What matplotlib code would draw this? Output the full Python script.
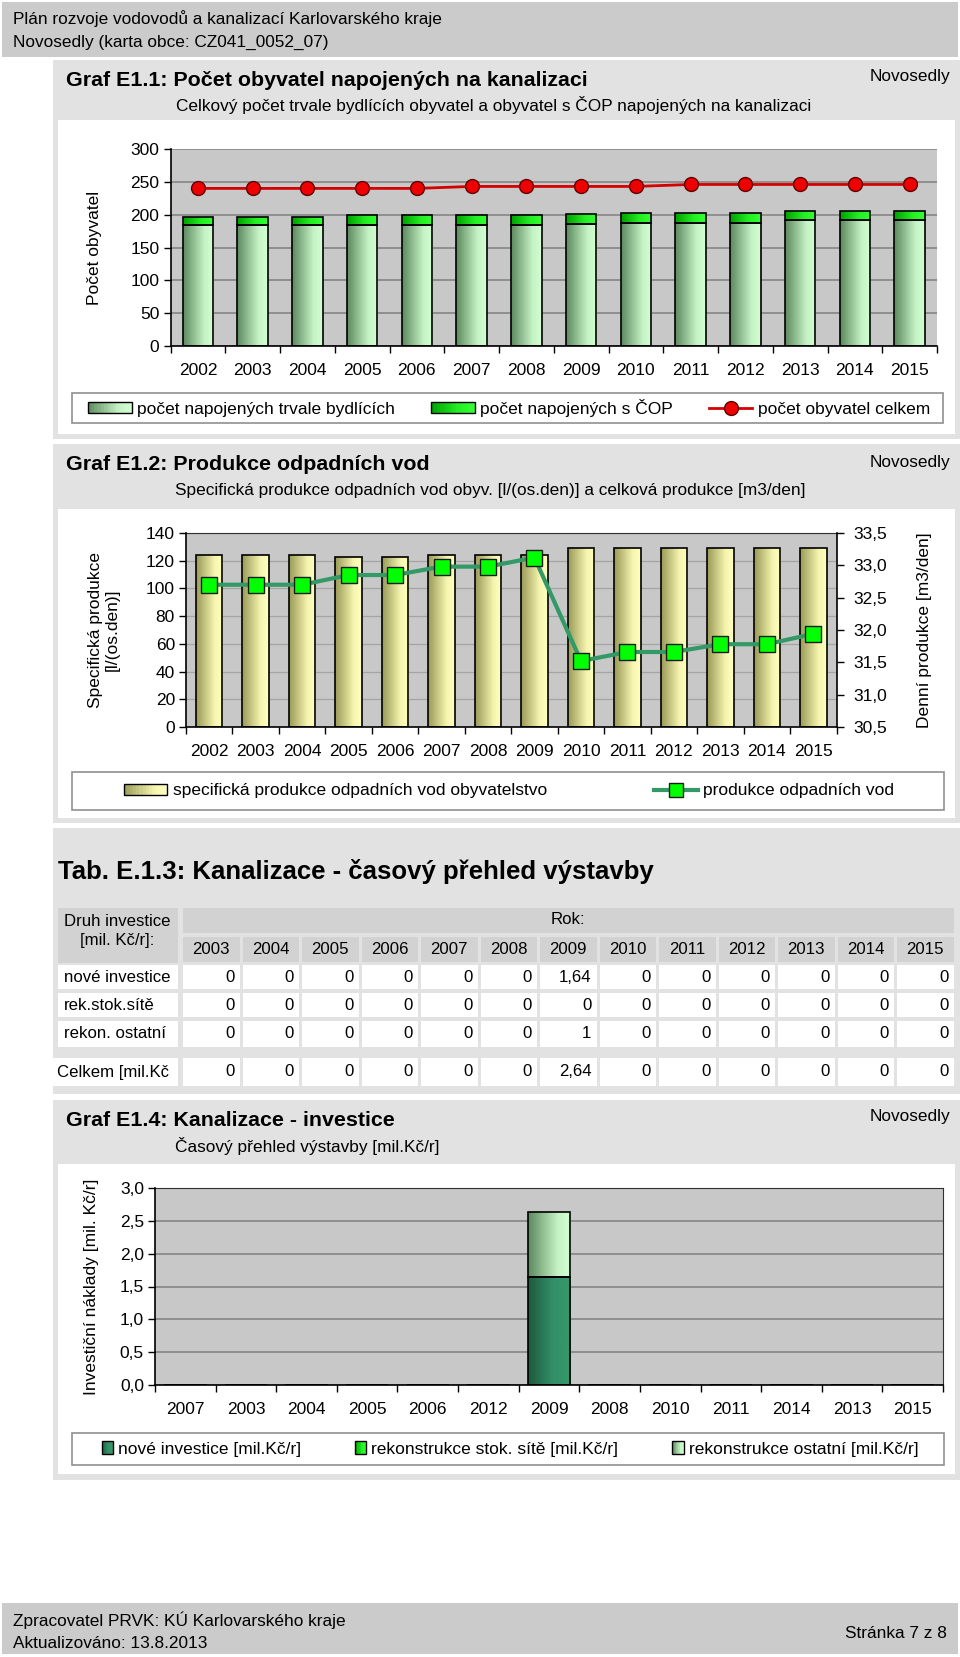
import numpy as np
import matplotlib
matplotlib.use('Agg')
import matplotlib.pyplot as plt
from matplotlib.patches import Rectangle, Patch
from matplotlib.lines import Line2D
from matplotlib.colors import LinearSegmentedColormap
from matplotlib.legend_handler import HandlerBase
from matplotlib.ticker import FuncFormatter, MultipleLocator

plt.rcParams['font.family'] = ['Liberation Sans', 'DejaVu Sans']

# --- data -------------------------------------------------------------
years = ['2002', '2003', '2004', '2005', '2006', '2007', '2008',
         '2009', '2010', '2011', '2012', '2013', '2014', '2015']
napojeni_trvale = [184, 184, 184, 184, 184, 184, 184, 186, 188, 188, 188, 192, 192, 192]
napojeni_cop = [12, 12, 12, 15, 15, 15, 15, 15, 15, 15, 15, 14, 14, 14]
obyvatel_celkem = [240, 240, 240, 240, 240, 243, 243, 243, 243, 246, 246, 246, 246, 246]

spec_produkce = [124, 124, 124, 123, 123, 124, 124, 124, 129, 129, 129, 129, 129, 129]
denni_produkce = [32.70, 32.70, 32.70, 32.85, 32.85, 32.98, 32.98, 33.12,
                  31.52, 31.66, 31.66, 31.78, 31.78, 31.94]

tab_years = ['2003', '2004', '2005', '2006', '2007', '2008', '2009',
             '2010', '2011', '2012', '2013', '2014', '2015']
nove_investice = [0, 0, 0, 0, 0, 0, 1.64, 0, 0, 0, 0, 0, 0]
rek_stok_site = [0, 0, 0, 0, 0, 0, 0, 0, 0, 0, 0, 0, 0]
rekon_ostatni = [0, 0, 0, 0, 0, 0, 1, 0, 0, 0, 0, 0, 0]
celkem = [0, 0, 0, 0, 0, 0, 2.64, 0, 0, 0, 0, 0, 0]
row_labels = ['nové investice', 'rek.stok.sítě', 'rekon. ostatní']

graf4_years = ['2007', '2003', '2004', '2005', '2006', '2012', '2009',
               '2008', '2010', '2011', '2014', '2013', '2015']

W, H = 960, 1657
fig = plt.figure(figsize=(W / 100, H / 100), dpi=100)

bg = fig.add_axes([0, 0, 1, 1], zorder=-1)
bg.set_xlim(0, W)
bg.set_ylim(H, 0)
bg.axis('off')


def box(x0, y0, x1, y1):
    return [x0 / W, 1 - y1 / H, (x1 - x0) / W, (y1 - y0) / H]


def rect(x0, y0, x1, y1, fc, ec='none', lw=0):
    bg.add_patch(Rectangle((x0, y0), x1 - x0, y1 - y0, facecolor=fc, edgecolor=ec, lw=lw))


def fmt(v):
    return f'{v:g}'.replace('.', ',')


PANEL = '#e2e2e2'
BAND = '#cbcbcb'
PLOT = '#c8c8c8'
GRID = '#8a8a8a'
FS = 12.4      # normal page text
TFS = 15.4     # panel titles

pale_green = LinearSegmentedColormap.from_list('pg', [(0, '#5c8a5e'), (0.7, '#c6f3c6'), (1, '#d2ffd2')])
bright_green = LinearSegmentedColormap.from_list('bg', [(0, '#00a000'), (0.6, '#22ee22'), (1, '#33ff33')])
olive = LinearSegmentedColormap.from_list('ol', [(0, '#9a9a58'), (0.7, '#f6f6b0'), (1, '#ffffc0')])
dark_green = LinearSegmentedColormap.from_list('dg', [(0, '#1e5a3c'), (0.6, '#33906a'), (1, '#36996a')])


class GradHandler(HandlerBase):
    def __init__(self, cmap):
        super().__init__()
        self.cmap = cmap

    def create_artists(self, legend, orig_handle, xdescent, ydescent, width, height, fontsize, trans):
        n = 14
        arts = []
        for i in range(n):
            arts.append(Rectangle((-xdescent + width * i / n, -ydescent), width / n, height,
                                  facecolor=self.cmap((i + 0.5) / n), edgecolor='none', transform=trans))
        arts.append(Rectangle((-xdescent, -ydescent), width, height, facecolor='none',
                              edgecolor='black', lw=1, transform=trans))
        return arts


def grad_bars(ax, x, heights, bottoms, width, cmap):
    bars = ax.bar(x, heights, width, bottom=bottoms, facecolor='none', edgecolor='black', lw=1.2, zorder=4)
    grad = np.linspace(0, 1, 64).reshape(1, -1)
    for b in bars:
        if b.get_height() == 0:
            continue
        x0, y0 = b.get_x(), b.get_y()
        im = ax.imshow(grad, cmap=cmap, aspect='auto', zorder=3, interpolation='bilinear',
                       extent=[x0, x0 + b.get_width(), y0, y0 + b.get_height()])
        im.set_clip_path(b)
    return bars


def style_axes(ax, n, grid_color=GRID, grid_lw=1.3):
    ax.set_facecolor(PLOT)
    ax.set_xlim(-0.5, n - 0.5)
    ax.set_xticks(np.arange(n))
    ax.set_xticks(np.arange(n + 1) - 0.5, minor=True)
    ax.tick_params(axis='x', which='major', length=0, pad=12, labelsize=12.5)
    ax.tick_params(axis='x', which='minor', length=5, direction='out', width=1)
    ax.tick_params(axis='y', length=5, direction='out', width=1, labelsize=12.5, pad=3)
    ax.grid(axis='y', color=grid_color, lw=grid_lw, zorder=1)
    ax.set_axisbelow(True)
    for s in ['top', 'right']:
        ax.spines[s].set_visible(False)
    for s in ['left', 'bottom']:
        ax.spines[s].set_linewidth(1.2)
        ax.spines[s].set_zorder(6)


# --- page frame -------------------------------------------------------
rect(2, 2, 958, 57, BAND)
bg.text(13, 19, 'Plán rozvoje vodovodů a kanalizací Karlovarského kraje', fontsize=FS, va='center')
bg.text(13, 42, 'Novosedly (karta obce: CZ041_0052_07)', fontsize=FS, va='center')
rect(2, 1603, 958, 1654, BAND)
bg.text(13, 1620, 'Zpracovatel PRVK: KÚ Karlovarského kraje', fontsize=FS, va='center')
bg.text(13, 1643, 'Aktualizováno: 13.8.2013', fontsize=FS, va='center')
bg.text(947, 1633, 'Stránka 7 z 8', fontsize=FS, va='center', ha='right')

# --- Graf E1.1 --------------------------------------------------------
rect(53, 60, 960, 439, PANEL)
rect(58, 120, 955, 434, 'white')
bg.text(66, 81, 'Graf E1.1: Počet obyvatel napojených na kanalizaci', fontsize=TFS, weight='bold', va='center')
bg.text(950, 77, 'Novosedly', fontsize=FS, va='center', ha='right')
bg.text(494, 105, 'Celkový počet trvale bydlících obyvatel a obyvatel s ČOP napojených na kanalizaci',
        fontsize=FS, va='center', ha='center')

ax1 = fig.add_axes(box(170.5, 149, 937, 346))
x = np.arange(len(years))
grad_bars(ax1, x, napojeni_trvale, 0, 0.555, pale_green)
grad_bars(ax1, x, napojeni_cop, napojeni_trvale, 0.555, bright_green)
ax1.plot(x, obyvatel_celkem, color='#d40000', lw=2, marker='o', ms=10,
         mfc='#ee0000', mec='#600000', mew=1, zorder=7)
style_axes(ax1, len(years))
ax1.set_ylim(0, 300)
ax1.yaxis.set_major_locator(MultipleLocator(50))
ax1.set_xticklabels(years)
ax1.set_ylabel('Počet obyvatel', fontsize=12.5)
ax1.yaxis.set_label_coords((102.5 - 170.5) / 766.5, 0.5)

rect(72, 393, 943, 423, 'white', '#909090', 1.2)
h1 = Patch(label='počet napojených trvale bydlících')
h2 = Patch(label='počet napojených s ČOP')
h3 = Line2D([], [], color='#d40000', lw=2, marker='o', ms=10, mfc='#ee0000', mec='#600000',
            label='počet obyvatel celkem')
fig.legend(handles=[h1, h2, h3], ncol=3, frameon=False, fontsize=12.5,
           loc='center', bbox_to_anchor=(509 / W, 1 - 408 / H),
           handler_map={h1: GradHandler(pale_green), h2: GradHandler(bright_green)},
           handlelength=2.5, handleheight=0.6, handletextpad=0.3, columnspacing=2.1)

# --- Graf E1.2 --------------------------------------------------------
rect(53, 444, 960, 823, PANEL)
rect(58, 509, 955, 818, 'white')
bg.text(66, 465, 'Graf E1.2: Produkce odpadních vod', fontsize=TFS, weight='bold', va='center')
bg.text(950, 462, 'Novosedly', fontsize=FS, va='center', ha='right')
bg.text(490, 491, 'Specifická produkce odpadních vod obyv. [l/(os.den)] a celková produkce [m3/den]',
        fontsize=FS, va='center', ha='center')

ax2 = fig.add_axes(box(186, 533, 836.5, 727))
grad_bars(ax2, x, spec_produkce, 0, 0.57, olive)
style_axes(ax2, len(years), grid_color='#a4a4a4', grid_lw=0.9)
ax2.spines['top'].set_visible(True)
ax2.spines['top'].set_color('#303030')
ax2.set_ylim(0, 140)
ax2.yaxis.set_major_locator(MultipleLocator(20))
ax2.set_xticklabels(years)
ax2.set_ylabel('Specifická produkce\n[l/(os.den)]', fontsize=12.5, linespacing=1.2)
ax2.yaxis.set_label_coords((120 - 186) / 650.5, 0.5)

ax2r = ax2.twinx()
ax2r.plot(x, denni_produkce, color='#339966', lw=3, marker='s', ms=12,
          mfc='#00ff00', mec='#1a1a1a', mew=1, zorder=7)
ax2r.set_ylim(30.5, 33.5)
ax2r.yaxis.set_major_locator(MultipleLocator(0.5))
ax2r.yaxis.set_major_formatter(FuncFormatter(lambda v, p: f'{v:.1f}'.replace('.', ',')))
ax2r.tick_params(axis='y', length=5, direction='out', width=1, labelsize=12.5, pad=7)
ax2r.spines['top'].set_visible(False)
ax2r.spines['left'].set_visible(False)
ax2r.spines['bottom'].set_visible(False)
ax2r.spines['right'].set_linewidth(1.2)
ax2r.set_ylabel('Denní produkce [m3/den]', fontsize=12.5)
ax2r.yaxis.set_label_coords((917 - 186) / 650.5, 0.5)

rect(72, 772, 944, 810, 'white', '#909090', 1.2)
g1 = Patch(label='specifická produkce odpadních vod obyvatelstvo')
g2 = Line2D([], [], color='#339966', lw=3, marker='s', ms=10, mfc='#00ff00', mec='#1a1a1a',
            label='produkce odpadních vod')
fig.legend(handles=[g1, g2], ncol=2, frameon=False, fontsize=12.5,
           loc='center', bbox_to_anchor=(509 / W, 1 - 791 / H),
           handler_map={g1: GradHandler(olive)},
           handlelength=2.5, handleheight=0.6, handletextpad=0.3, columnspacing=6.2)

# --- Tab. E.1.3 -------------------------------------------------------
rect(53, 828, 960, 1094, PANEL)
bg.text(58, 872, 'Tab. E.1.3: Kanalizace - časový přehled výstavby', fontsize=18.5, weight='bold', va='center')
HEAD = '#d2d2d2'
TS = 12.1
col0, pitch, cw = 183, 59.5, 56.5
rect(58, 908, 178, 963, HEAD)
bg.text(117, 931, 'Druh investice\n[mil. Kč/r]:', fontsize=TS, va='center', ha='center', linespacing=1.25)
rect(col0, 908, col0 + 12 * pitch + cw, 933, HEAD)
bg.text(col0 + (12 * pitch + cw) / 2, 920, 'Rok:', fontsize=TS, va='center', ha='center')
for i, yr in enumerate(tab_years):
    cx = col0 + i * pitch
    rect(cx, 937, cx + cw, 962, HEAD)
    bg.text(cx + cw / 2, 950, yr, fontsize=TS, va='center', ha='center')

rows = [nove_investice, rek_stok_site, rekon_ostatni]
row_y = [(965, 989), (993, 1017), (1021, 1047)]
for (y0, y1), lab, vals in zip(row_y, row_labels, rows):
    rect(58, y0, 178, y1, 'white')
    bg.text(64, (y0 + y1) / 2, lab, fontsize=TS, va='center')
    for i, v in enumerate(vals):
        cx = col0 + i * pitch
        rect(cx, y0, cx + cw, y1, 'white')
        bg.text(cx + cw - 5, (y0 + y1) / 2, fmt(v), fontsize=TS, va='center', ha='right')
y0, y1 = 1058, 1086
rect(53, y0, 178, y1, 'white')
bg.text(57, (y0 + y1) / 2, 'Celkem [mil.Kč', fontsize=TS, va='center')
for i, v in enumerate(celkem):
    cx = col0 + i * pitch
    rect(cx, y0, cx + cw, y1, 'white')
    bg.text(cx + cw - 5, (y0 + y1) / 2, fmt(v), fontsize=TS, va='center', ha='right')

# --- Graf E1.4 --------------------------------------------------------
rect(53, 1100, 960, 1480, PANEL)
rect(58, 1164, 955, 1474, 'white')
bg.text(66, 1120, 'Graf E1.4: Kanalizace - investice', fontsize=TFS, weight='bold', va='center')
bg.text(950, 1117, 'Novosedly', fontsize=FS, va='center', ha='right')
bg.text(175, 1146, 'Časový přehled výstavby [mil.Kč/r]', fontsize=FS, va='center')

lookup_nove = dict(zip(tab_years, nove_investice))
lookup_stok = dict(zip(tab_years, rek_stok_site))
lookup_ost = dict(zip(tab_years, rekon_ostatni))
g4_nove = [lookup_nove[y] for y in graf4_years]
g4_stok = [lookup_stok[y] for y in graf4_years]
g4_ost = [lookup_ost[y] for y in graf4_years]

ax4 = fig.add_axes(box(155, 1188, 943, 1385))
x4 = np.arange(len(graf4_years))
grad_bars(ax4, x4, g4_nove, 0, 0.70, dark_green)
grad_bars(ax4, x4, g4_stok, np.array(g4_nove), 0.70, bright_green)
grad_bars(ax4, x4, g4_ost, np.array(g4_nove) + np.array(g4_stok), 0.70, pale_green)
style_axes(ax4, len(graf4_years))
for s in ['top', 'right']:
    ax4.spines[s].set_visible(True)
    ax4.spines[s].set_color('#303030')
ax4.set_ylim(0, 3)
ax4.yaxis.set_major_locator(MultipleLocator(0.5))
ax4.yaxis.set_major_formatter(FuncFormatter(lambda v, p: f'{v:.1f}'.replace('.', ',')))
ax4.set_xticklabels(graf4_years)
ax4.set_ylabel('Investiční náklady [mil. Kč/r]', fontsize=12.5)
ax4.yaxis.set_label_coords((99 - 155) / 788, 0.5)

rect(72, 1433, 944, 1465, 'white', '#909090', 1.2)
k1 = Patch(label='nové investice [mil.Kč/r]')
k2 = Patch(label='rekonstrukce stok. sítě [mil.Kč/r]')
k3 = Patch(label='rekonstrukce ostatní [mil.Kč/r]')
fig.legend(handles=[k1, k2, k3], ncol=3, frameon=False, fontsize=12.5,
           loc='center', bbox_to_anchor=(510 / W, 1 - 1449 / H),
           handler_map={k1: GradHandler(dark_green), k2: GradHandler(bright_green),
                        k3: GradHandler(pale_green)},
           handlelength=0.65, handleheight=0.7, handletextpad=0.3, columnspacing=3.1)

fig.savefig('out.png', dpi=100)
